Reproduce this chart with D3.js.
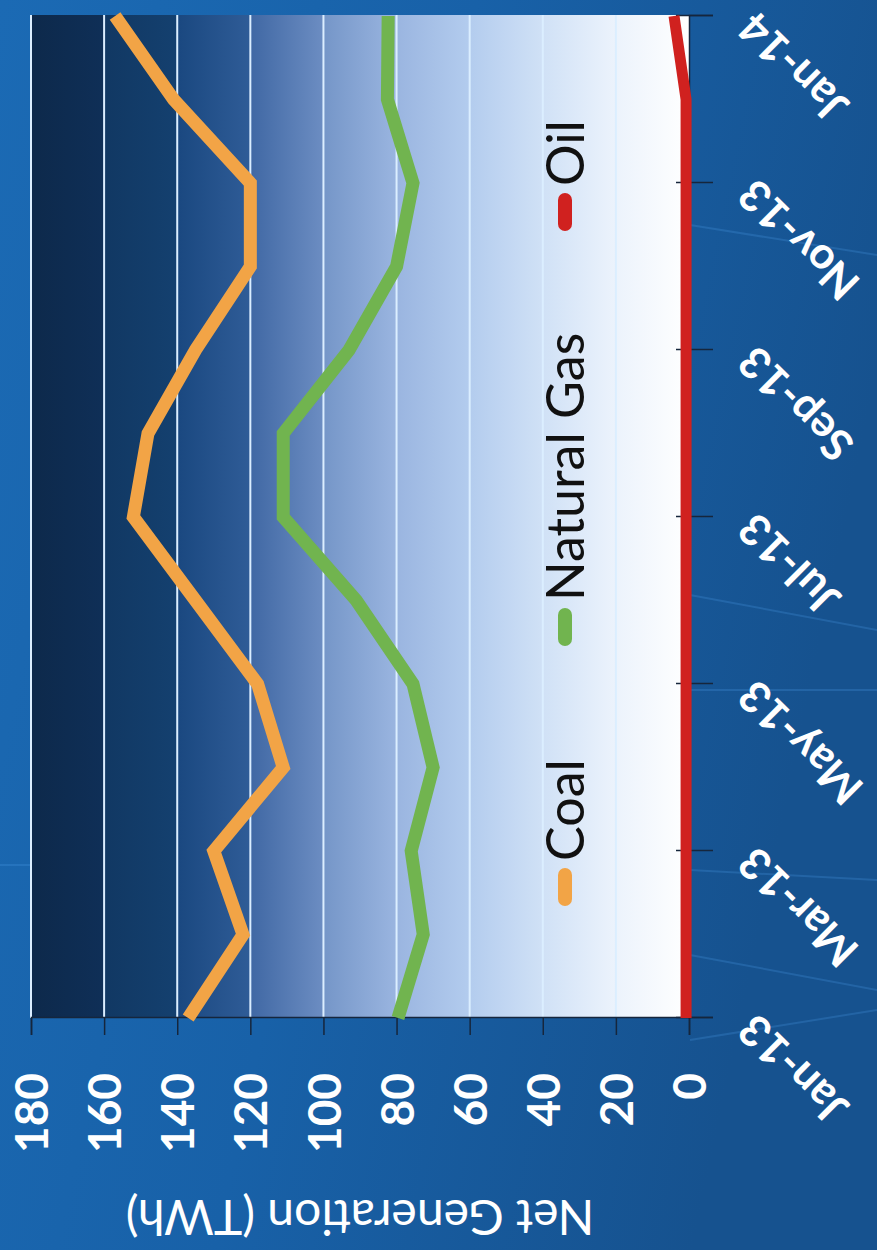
<!DOCTYPE html>
<html><head><meta charset="utf-8">
<script src="https://cdn.jsdelivr.net/npm/d3@7"></script>
<style>html,body{margin:0;padding:0;background:#1760a6;overflow:hidden}</style>
</head><body><svg id="c" width="877" height="1250"></svg>
<script>
// ---- data ----
const months = ["Jan-13","Feb-13","Mar-13","Apr-13","May-13","Jun-13","Jul-13","Aug-13","Sep-13","Oct-13","Nov-13","Dec-13","Jan-14"];
const coal = [137, 122, 130, 111, 118, 135, 152, 148, 135, 120, 120, 141, 157];
const naturalGas = [79.6, 72.7, 76, 70, 75.5, 91, 111, 111, 93, 80, 75.5, 82.5, 82.3];
const oil = [0.8, 0.8, 0.8, 0.8, 0.8, 0.8, 0.8, 0.8, 0.8, 0.8, 0.8, 0.8, 4.1];
const monthTickLabels = ["Jan-13","Mar-13","May-13","Jul-13","Sep-13","Nov-13","Jan-14"];
const valueTicks = [0, 20, 40, 60, 80, 100, 120, 140, 160, 180];
const seriesNames = ["Coal", "Natural Gas", "Oil"];
const seriesColors = ["#f2a446", "#71b44f", "#d0211f"];
const axisTitle = "Net Generation (TWh)";

// ---- drawing ----
const W = 877, H = 1250;
const svg = d3.select("#c");
const defs = svg.append("defs");

// page background
const bg = defs.append("linearGradient").attr("id","bg").attr("x1",0).attr("y1",0).attr("x2",1).attr("y2",0.3);
bg.append("stop").attr("offset",0).attr("stop-color","#1b6ab4");
bg.append("stop").attr("offset",0.5).attr("stop-color","#1861a8");
bg.append("stop").attr("offset",1).attr("stop-color","#16528f");
svg.append("rect").attr("width",W).attr("height",H).attr("fill","url(#bg)");

// faint streaks in the background photo
const streaks = [[690,225,877,255],[690,595,877,630],[690,955,877,990],[690,1040,877,1010],[690,690,877,690],[690,870,877,880],[0,865,30,865]];
svg.append("g").selectAll("line").data(streaks).join("line")
  .attr("x1",d=>d[0]).attr("y1",d=>d[1]).attr("x2",d=>d[2]).attr("y2",d=>d[3])
  .attr("stroke","#4a9be6").attr("stroke-opacity",0.25).attr("stroke-width",2);

// chart drawn in original orientation, then rotated -90deg
const g = svg.append("g").attr("transform",`translate(0,${H}) rotate(-90)`);

const x = d3.scalePoint().domain(months).range([232, 1234]);
const y = d3.scaleLinear().domain([0, 180]).range([689, 31]);

// plot area gradient (along value axis)
const pg = defs.append("linearGradient").attr("id","plotbg").attr("gradientUnits","userSpaceOnUse")
  .attr("x1",0).attr("y1",y(180)).attr("x2",0).attr("y2",y(0));
const stops = [[180,"#0d294b"],[160.1,"#0f2f57"],[159.9,"#113863"],[140.1,"#14406f"],[139.9,"#1a4880"],[120.1,"#2f5c97"],[119.9,"#4068a4"],[100.1,"#6c8dc2"],[99.9,"#7596c8"],[80,"#9ab5e0"],[60,"#b3ccee"],[40,"#d0e1f6"],[20,"#ecf3fc"],[0,"#ffffff"]];
stops.forEach(s => pg.append("stop").attr("offset",(y(s[0])-y(180))/(y(0)-y(180))).attr("stop-color",s[1]));

g.append("rect").attr("x",x(months[0])).attr("y",y(180))
  .attr("width",x(months[months.length-1])-x(months[0])+1).attr("height",y(0)-y(180))
  .attr("fill","url(#plotbg)");

// gridlines
g.append("g").selectAll("line").data(valueTicks.filter(v=>v>0)).join("line")
  .attr("x1",x(months[0])).attr("x2",x(months[months.length-1])+1)
  .attr("y1",d=>y(d)).attr("y2",d=>y(d))
  .attr("stroke","#dbeeff").attr("stroke-width",2);

// value axis (left in original)
const yAxis = d3.axisLeft(y).tickValues(valueTicks).tickSize(17).tickPadding(38).tickFormat(d3.format("d"));
const ya = g.append("g").attr("transform",`translate(${x(months[0])},0)`).call(yAxis);
ya.select(".domain").attr("stroke","#16263c").attr("stroke-width",1.5);
ya.selectAll(".tick line").attr("stroke","#16263c").attr("stroke-width",1.5);
ya.selectAll(".tick text").attr("fill","#ffffff").attr("font-family","Lato").attr("font-weight","bold").attr("font-size",46).attr("dy","0.36em");

// time axis (bottom in original)
const xAxis = d3.axisBottom(x).tickValues(monthTickLabels).tickSize(24).tickPadding(0);
const xa = g.append("g").attr("transform",`translate(0,${y(0)})`).call(xAxis);
xa.select(".domain").attr("stroke","#16263c").attr("stroke-width",1.5);
xa.selectAll(".tick line").attr("stroke","#16263c").attr("stroke-width",1.5).attr("y1",-13);
xa.selectAll(".tick text").attr("fill","#ffffff").attr("font-family","Lato").attr("font-weight","bold").attr("font-size",44)
  .attr("x",0).attr("y",0).attr("dy","0.36em").attr("text-anchor","end")
  .attr("transform","translate(-5,57) rotate(-45)");

// axis title
g.append("text").attr("transform",`translate(33,${(y(0)+y(180))/2}) rotate(-90)`)
  .attr("text-anchor","middle").attr("dy","0.36em")
  .attr("fill","#ffffff").attr("font-family","Lato").attr("font-size",48).text(axisTitle);

// series lines
const seriesData = [coal, naturalGas, oil];
const widths = [13, 13, 11];
const line = d3.line().x((d,i)=>x(months[i])).y(d=>y(d));
g.append("g").selectAll("path").data(seriesData).join("path")
  .attr("d", line).attr("fill","none")
  .attr("stroke",(d,i)=>seriesColors[i]).attr("stroke-width",(d,i)=>widths[i])
  .attr("stroke-linejoin","miter").attr("stroke-linecap","butt");

// legend
const legendY = 565;
const legendStarts = [345, 605, 1020];
const lg = g.append("g").selectAll("g").data(seriesNames).join("g")
  .attr("transform",(d,i)=>`translate(${legendStarts[i]},${legendY})`);
lg.append("line").attr("x1",6).attr("x2",30).attr("y1",0).attr("y2",0)
  .attr("stroke",(d,i)=>seriesColors[i]).attr("stroke-width",14).attr("stroke-linecap","round");
lg.append("text").attr("x",44).attr("y",0).attr("dy","0.36em")
  .attr("fill","#111").attr("font-family","Lato").attr("font-size",52).text(d=>d);
</script></body></html>
